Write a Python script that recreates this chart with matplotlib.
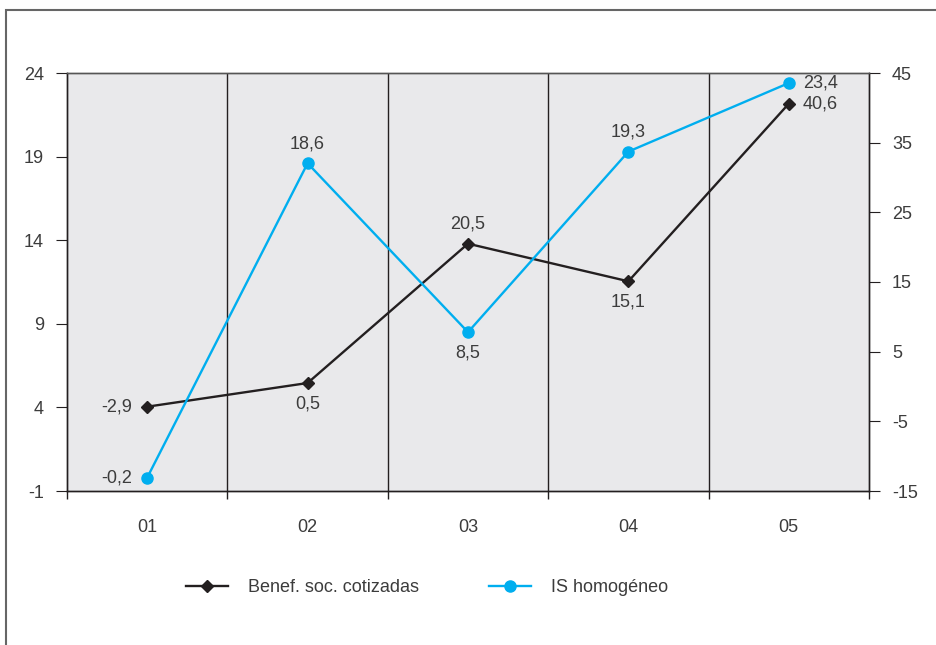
import matplotlib
matplotlib.use("Agg")
import matplotlib.pyplot as plt
from matplotlib.patches import Rectangle

categories = ["01", "02", "03", "04", "05"]
benef = [-2.9, 0.5, 20.5, 15.1, 40.6]      # right axis
is_hom = [-0.2, 18.6, 8.5, 19.3, 23.4]     # left axis
left_ticks = [-1, 4, 9, 14, 19, 24]
right_ticks = [-15, -5, 5, 15, 25, 35, 45]

benef_pos = ["left", "below", "above", "below", "right"]
is_pos = ["left", "above", "below", "above", "right"]

plt.rcParams['font.family'] = ['Liberation Sans', 'DejaVu Sans']
plt.rcParams['axes.unicode_minus'] = False
TXT = "#3c3c3c"
BLUE = "#00AEEF"
BLACK = "#231F20"
FS = 13

fig = plt.figure(figsize=(9.36, 6.45), dpi=100)
fig.patches.append(Rectangle((6/936, -0.1), 1.2, 1 - 10/645 + 0.1, transform=fig.transFigure,
                             fill=False, edgecolor="#666666", linewidth=1.5))

ax2 = fig.add_axes([67/936, 1 - 491/645, (869 - 67)/936, (491 - 73)/645])
ax = ax2.twinx()
ax.yaxis.tick_left()
ax2.yaxis.tick_right()
ax.set_zorder(3)
ax.patch.set_visible(False)
ax2.set_facecolor("#E9E9EB")

x = list(range(len(categories)))
ax2.set_xlim(-0.5, len(categories) - 0.5)
ax2.set_ylim(right_ticks[0], right_ticks[-1])
ax.set_ylim(left_ticks[0], left_ticks[-1])
ax.set_yticks(left_ticks)
ax2.set_yticks(right_ticks)

for b in [i + 0.5 for i in range(len(categories) - 1)]:
    ax2.axvline(b, color=BLACK, linewidth=1.0, zorder=1)

ax2.plot(x, benef, color=BLACK, linewidth=1.7, marker="D", markersize=6.5, zorder=3)
ax.plot(x, is_hom, color=BLUE, linewidth=1.7, marker="o", markersize=8, zorder=3)

def annotate(a, xs, ys, pos):
    for xi, yi, p in zip(xs, ys, pos):
        s = f"{yi:.1f}".replace(".", ",")
        if p == "left":
            off, ha, va = (-11, 0), "right", "center"
        elif p == "right":
            off, ha, va = (10, 0), "left", "center"
        elif p == "above":
            off, ha, va = (0, 8), "center", "bottom"
        else:
            off, ha, va = (0, -9), "center", "top"
        a.annotate(s, (xi, yi), xytext=off, textcoords="offset points", ha=ha, va=va,
                   fontsize=FS, color=TXT)

annotate(ax2, x, benef, benef_pos)
annotate(ax, x, is_hom, is_pos)

ax2.set_xticks([i - 0.5 for i in range(len(categories) + 1)])
ax2.set_xticklabels([])
ax2.set_xticks(x, minor=True)
ax2.set_xticklabels(categories, minor=True)
ax2.tick_params(axis="x", which="major", direction="out", length=6, color=BLACK, width=1)
ax2.tick_params(axis="x", which="minor", length=0, pad=20.5, labelsize=FS, labelcolor=TXT)
ax2.tick_params(axis="y", direction="out", length=8, color=BLACK, pad=8.5, labelsize=FS, labelcolor=TXT)
ax.tick_params(axis="y", direction="out", length=8, color=BLACK, pad=8.5, labelsize=FS, labelcolor=TXT)
ax.set_xlim(ax2.get_xlim())

for a in (ax, ax2):
    for side, sp in a.spines.items():
        sp.set_color(BLACK)
        sp.set_linewidth(1.0)
    a.spines["top"].set_color("#555555")

h1, = ax2.plot([], [], color=BLACK, linewidth=1.7, marker="D", markersize=6.5)
h2, = ax.plot([], [], color=BLUE, linewidth=1.7, marker="o", markersize=8)
fig.legend([h1, h2], ["Benef. soc. cotizadas", "IS homogéneo"], loc="center",
           bbox_to_anchor=(427/936, 1 - 588/645), ncol=2, frameon=False, fontsize=FS,
           handlelength=2.3, handletextpad=1.1, columnspacing=3.9, labelcolor=TXT)

fig.savefig("out.png", dpi=100)
